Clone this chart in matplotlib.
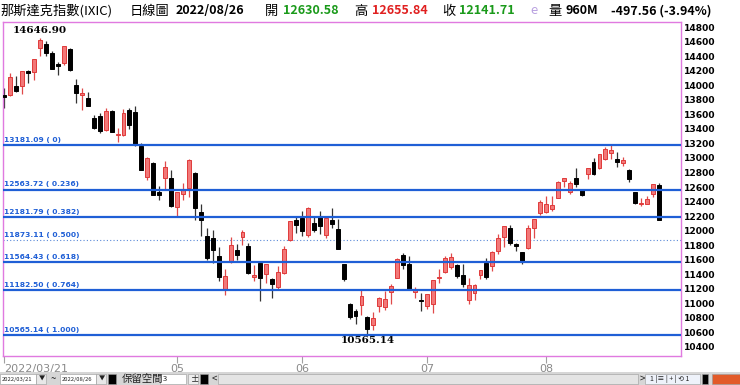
import matplotlib
matplotlib.use('Agg')
from matplotlib import pyplot as plt
from matplotlib.patches import Rectangle

dates = ['03/21', '03/22', '03/23', '03/24', '03/25', '03/28', '03/29', '03/30', '03/31',
         '04/01', '04/04', '04/05', '04/06', '04/07', '04/08', '04/11', '04/12', '04/13',
         '04/14', '04/18', '04/19', '04/20', '04/21', '04/22', '04/25', '04/26', '04/27',
         '04/28', '04/29',
         '05/02', '05/03', '05/04', '05/05', '05/06', '05/09', '05/10', '05/11', '05/12',
         '05/13', '05/16', '05/17', '05/18', '05/19', '05/20', '05/23', '05/24', '05/25',
         '05/26', '05/27', '05/31',
         '06/01', '06/02', '06/03', '06/06', '06/07', '06/08', '06/09', '06/10', '06/13',
         '06/14', '06/15', '06/16', '06/17', '06/21', '06/22', '06/23', '06/24', '06/27',
         '06/28', '06/29', '06/30',
         '07/01', '07/05', '07/06', '07/07', '07/08', '07/11', '07/12', '07/13', '07/14',
         '07/15', '07/18', '07/19', '07/20', '07/21', '07/22', '07/25', '07/26', '07/27',
         '07/28', '07/29',
         '08/01', '08/02', '08/03', '08/04', '08/05', '08/08', '08/09', '08/10', '08/11',
         '08/12', '08/15', '08/16', '08/17', '08/18', '08/19', '08/22', '08/23', '08/24',
         '08/25', '08/26']

opens = [13865, 13865, 13990, 13985, 14195, 14180, 14510, 14565, 14440,
         14285, 14305, 14500, 14002, 13865, 13825, 13550, 13580, 13385,
         13645, 13320, 13315, 13660, 13630, 13170, 12740, 12930, 12530,
         12725, 12725,
         12326, 12500, 12586, 12790, 12256, 11924, 11900, 11650, 11190,
         11565, 11732, 11914, 11790, 11360, 11554, 11405, 11333, 11225,
         11415, 11870, 12150,
         12180, 11940, 12105, 12190, 11940, 12150, 12025, 11540, 10990,
         10895, 10980, 10810, 10700, 10960, 10950, 11155, 11351, 11661,
         11535, 11150, 11052,
         10967, 10988, 11344, 11432, 11503, 11528, 11396, 11045, 11140,
         11390, 11560, 11515, 11720, 11912, 12040, 11818, 11705, 11756,
         12037, 12245,
         12250, 12303, 12448, 12678, 12529, 12720, 12565, 12772, 12947,
         12864, 12989, 13073, 12983, 12925, 12837, 12535, 12370, 12373,
         12497, 12631]

highs = [13962, 14167, 14121, 14194, 14204, 14356, 14647, 14601, 14465,
         14320, 14540, 14510, 14080, 13960, 13906, 13591, 13620, 13681,
         13656, 13414, 13666, 13681, 13711, 13200, 13007, 12940, 12619,
         12955, 12828,
         12536, 12655, 12991, 12812, 12366, 12043, 12010, 11769, 11478,
         11910, 11821, 12008, 11832, 11525, 11558, 11545, 11350, 11513,
         11790, 12131, 12203,
         12268, 12320, 12197, 12275, 12185, 12305, 12154, 11543, 11011,
         10923, 11192, 10831, 10885, 11084, 11173, 11261, 11625, 11695,
         11646, 11230, 11144,
         11130, 11322, 11477, 11646, 11696, 11540, 11537, 11342, 11261,
         11453, 11624, 11718, 11956, 12060, 12084, 11830, 11713, 12082,
         12163, 12422,
         12472, 12478, 12680, 12726, 12676, 12860, 12579, 12856, 13003,
         13047, 13145, 13181, 13082, 13017, 12849, 12538, 12451, 12478,
         12640, 12656]

lows = [13686, 13846, 13909, 13880, 14037, 14073, 14398, 14406, 14219,
        14140, 14273, 14192, 13751, 13664, 13708, 13402, 13339, 13368,
        13351, 13225, 13299, 13396, 13158, 12829, 12701, 12485, 12427,
        12555, 12324,
        12202, 12420, 12460, 12140, 11926, 11598, 11555, 11313, 11108,
        11550, 11603, 11798, 11400, 11302, 11035, 11284, 11068, 11189,
        11400, 11860, 11964,
        11931, 11917, 11978, 11960, 11902, 12043, 11751, 11310, 10779,
        10714, 10845, 10565, 10633, 10885, 10907, 10995, 11351, 11478,
        11179, 11067, 10898,
        10925, 10872, 11275, 11422, 11469, 11355, 11226, 10987, 11049,
        11337, 11330, 11450, 11680, 11779, 11796, 11725, 11537, 11745,
        11900, 12210,
        12244, 12271, 12448, 12603, 12507, 12602, 12481, 12710, 12765,
        12846, 12970, 12979, 12872, 12882, 12670, 12360, 12345, 12363,
        12466, 12141]

closes = [13838, 14109, 13923, 14192, 14169, 14355, 14620, 14442, 14221,
          14262, 14533, 14204, 13889, 13897, 13711, 13412, 13372, 13644,
          13351, 13332, 13620, 13453, 13175, 12839, 13005, 12491, 12489,
          12872, 12335,
          12536, 12564, 12965, 12318, 12145, 11623, 11738, 11364, 11371,
          11805, 11663, 11985, 11418, 11389, 11355, 11535, 11264, 11435,
          11741, 12131, 12081,
          11994, 12317, 12013, 12061, 12175, 12086, 11754, 11340, 10809,
          10828, 11099, 10646, 10798, 11069, 11053, 11232, 11608, 11525,
          11182, 11178, 11029,
          11128, 11322, 11362, 11621, 11635, 11373, 11265, 11248, 11251,
          11452, 11360, 11713, 11898, 12060, 11834, 11783, 11563, 12032,
          12163, 12391,
          12369, 12349, 12668, 12721, 12658, 12644, 12494, 12855, 12780,
          13047, 13128, 13103, 12938, 12965, 12705, 12382, 12381, 12432,
          12639, 12142]

fib_levels = [13181.09, 12563.72, 12181.79, 11873.11, 11564.43, 11182.50, 10565.14]
fib_ratios = ['0', '0.236', '0.382', '0.500', '0.618', '0.764', '1.000']

y_ticks = list(range(10400, 14801, 200))
start_label = '2022/03/21'
high_label = '14646.90'
low_label = '10565.14'

header = [('那斯達克指數(IXIC)', 'black', 'normal', 0),
          ('日線圖', 'black', 'normal', 130),
          ('2022/08/26', 'black', 'bold', 176),
          ('開', 'black', 'normal', 265),
          ('12630.58', '#1a9a1a', 'bold', 283),
          ('高', 'black', 'normal', 354),
          ('12655.84', '#e02020', 'bold', 372),
          ('收', 'black', 'normal', 442),
          ('12141.71', '#1a9a1a', 'bold', 459),
          ('e', '#b8a0e0', 'normal', 530),
          ('量', 'black', 'normal', 548),
          ('960M', 'black', 'bold', 565),
          ('-497.56 (-3.94%)', 'black', 'bold', 611)]

W, H = 740, 385
FIB_BLUE = '#1f5fd6'
BORDER = '#e07ae0'
CJK = ['Noto Sans CJK TC', 'DejaVu Sans']


def fx(px):
    return px / W


def fy(py):
    return 1 - py / H


def draw_candles(ax):
    for i, (o, h, l, c) in enumerate(zip(opens, highs, lows, closes)):
        up = c >= o
        wick = '#e04a4a' if up else '#333333'
        ax.vlines(i, l, h, color=wick, linewidth=0.9, zorder=2)
        body = max(abs(c - o), 10)
        if up:
            ax.bar(i, body, bottom=min(o, c), width=0.66, color='#f27878',
                   edgecolor='#e03a3a', linewidth=0.7, zorder=3)
        else:
            ax.bar(i, body, bottom=min(o, c), width=0.66, color='black',
                   edgecolor='black', linewidth=0.7, zorder=3)


def draw_fib(ax):
    for level, ratio in zip(fib_levels, fib_ratios):
        if ratio == '0.500':
            ax.axhline(level, color='#5a8ad8', linewidth=0.8,
                       linestyle=(0, (1, 2)), zorder=1)
        else:
            ax.axhline(level, color=FIB_BLUE, linewidth=1.6, zorder=4)
        ax.text(-0.15, level + 30, '{:.2f} ( {})'.format(level, ratio),
                color=FIB_BLUE, fontsize=5.4, fontweight='bold',
                ha='left', va='bottom', zorder=5)


def draw_toolbar(fig):
    fig.patches.append(Rectangle((0, 0), 1, fy(372), transform=fig.transFigure,
                                 facecolor='#d6d6d6', edgecolor='none'))
    boxes = [(0, 36, 'white'), (36, 46, '#e8e8e8'), (60, 96, 'white'),
             (96, 106, '#e8e8e8'), (108, 116, 'black'), (160, 186, 'white'),
             (188, 198, '#eeeeee'), (200, 208, 'black'), (218, 638, '#e4e4e4'),
             (645, 700, '#eef2fa'), (702, 708, 'black'), (712, 740, '#e25a28')]
    for x0, x1, col in boxes:
        fig.patches.append(Rectangle((fx(x0), fy(384)), fx(x1 - x0), fy(374) - fy(384),
                                     transform=fig.transFigure, facecolor=col,
                                     edgecolor='#999999', linewidth=0.4))
    items = [(2, '2022/03/21', 4.2), (39, '▼', 4.5), (51, '~', 7), (62, '2022/08/26', 4.2),
             (99, '▼', 4.5), (122, '保留空間', 7.5), (163, '3', 5.5), (191, '±', 6),
             (212, '<', 7), (640, '>', 7), (650, '1 |≡ | + | ⟲ 1', 5)]
    for x, s, size in items:
        fig.text(fx(x), fy(379), s, fontsize=size, family=CJK, ha='left',
                 va='center', color='#222222')


def main():
    fig = plt.figure(figsize=(W / 100, H / 100), dpi=100)
    fig.patch.set_facecolor('white')
    ax = fig.add_axes([fx(3), fy(356), fx(678), fy(22) - fy(356)])

    draw_candles(ax)
    draw_fib(ax)

    ax.annotate(high_label, (highs.index(max(highs)), max(highs)), xytext=(0, 2),
                textcoords='offset points', ha='center', va='bottom',
                fontsize=7.5, fontweight='bold', family='DejaVu Serif')
    ax.annotate(low_label, (lows.index(min(lows)), min(lows)), xytext=(0, -1),
                textcoords='offset points', ha='center', va='top',
                fontsize=7.5, fontweight='bold', family='DejaVu Serif')

    ax.set_xlim(-0.25, 113.7)
    ax.set_ylim(10276, 14869)

    ax.yaxis.tick_right()
    ax.set_yticks(y_ticks)
    ax.set_yticklabels([str(v) for v in y_ticks], fontsize=6.6, fontweight='bold')
    ax.tick_params(axis='y', length=0, pad=2)

    # month ticks; the one right after the start label is skipped
    xt, xl = [0], [start_label]
    for i in range(1, len(dates)):
        if dates[i][:2] != dates[i - 1][:2] and i > 15:
            xt.append(i)
            xl.append(dates[i][:2])
    ax.set_xticks(xt)
    ax.set_xticklabels(xl, fontsize=8, color='#8a8a8a')
    ax.get_xticklabels()[0].set_horizontalalignment('left')
    ax.tick_params(axis='x', length=5, color='#a0a0a0', pad=1)

    for sp in ax.spines.values():
        sp.set_color(BORDER)
        sp.set_linewidth(1.0)

    for text, col, weight, x in header:
        fig.text(fx(x), fy(11), text, color=col, fontweight=weight,
                 fontsize=9 if weight == 'bold' else 9.5, family=CJK,
                 ha='left', va='center')

    draw_toolbar(fig)
    fig.savefig('out.png', dpi=100)


main()
